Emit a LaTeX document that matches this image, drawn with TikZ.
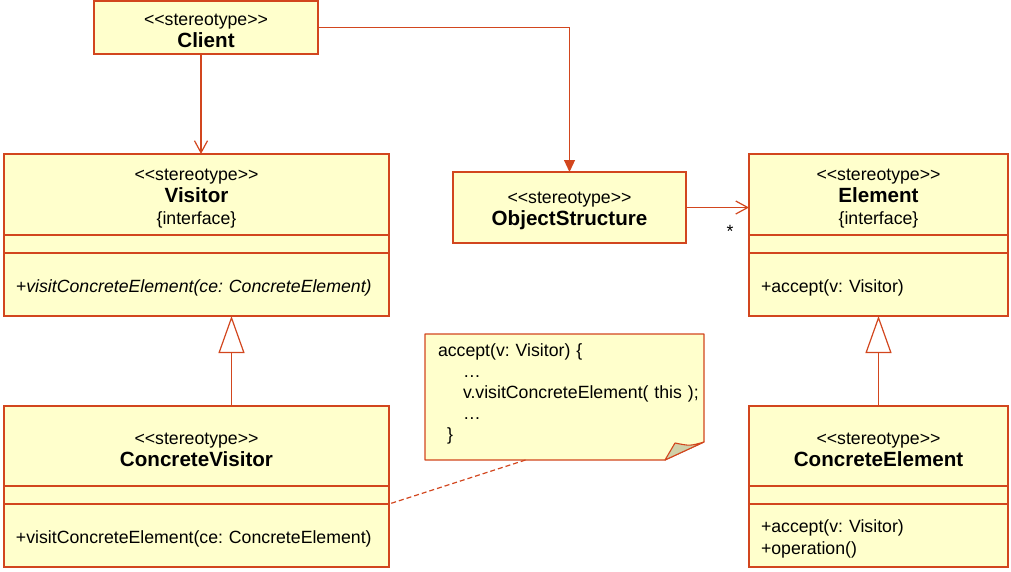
\documentclass[tikz,border=0pt]{standalone}
\usepackage{fontspec}
\setmainfont{Liberation Sans}
\usepackage{tikz}
\usetikzlibrary{arrows.meta,positioning,backgrounds}

\definecolor{umlline}{RGB}{210,70,30}
\definecolor{umlfill}{RGB}{255,255,204}
\definecolor{umlfold}{RGB}{208,208,168}
\newcommand{\topgap}{\rule{0pt}{19pt}}
\newcommand{\stereo}{\topgap<{}<stereotype>{}>}
\newcommand{\clsname}[1]{{\fontsize{20.6}{22}\selectfont\bfseries #1}}
\frenchspacing

\begin{document}
\begin{tikzpicture}[
  x=1pt, y=-1pt,
  font=\fontsize{17.7}{22}\selectfont,
  node distance=0pt,
  part/.style  ={rectangle, draw=umlline, fill=umlfill, line width=1.3pt,
                 outer sep=0pt, inner xsep=12pt, inner ysep=0pt},
  head/.style  ={part, align=center},
  attr/.style  ={part, minimum height=18pt},
  ops/.style   ={part, align=left, minimum height=63pt},
  notebox/.style={draw=umlline, fill=umlfill, line width=1.1pt, line join=round},
  assoc/.style ={draw=umlline, line width=1.2pt},
  arr/.style   ={assoc, -{Straight Barb[length=12pt, width=13pt]}},
  nav/.style   ={assoc, -{Triangle[length=12pt, width=11pt]}},
  gen/.style   ={assoc, -{Triangle[open, length=37pt, width=26pt]}},
  link/.style  ={assoc, dash pattern=on 5pt off 3pt}
]
\useasboundingbox (0,0) rectangle (1011,571);

\node[head, minimum width=224pt, minimum height=53pt, anchor=north west] (client) at (94,1) {\stereo\\\clsname{Client}};

\node[head, text width=361pt, minimum height=81pt, anchor=north west] (visitor) at (4,154) {\stereo\\\clsname{Visitor}\\\{interface\}};
\node[attr, text width=361pt, below=of visitor] (visitorAttr) {};
\node[ops, text width=361pt, below=of visitorAttr] (visitorOps) {\topgap\itshape +visitConcreteElement(ce: ConcreteElement)};

\node[head, text width=361pt, minimum height=80pt, below=90pt of visitorOps] (concVisitor) {\stereo\\\clsname{ConcreteVisitor}};
\node[attr, text width=361pt, below=of concVisitor] (concVisitorAttr) {};
\node[ops, text width=361pt, below=of concVisitorAttr] (concVisitorOps) {\topgap+visitConcreteElement(ce: ConcreteElement)};

\node[head, text width=235pt, minimum height=81pt, right=360pt of visitor] (element) {\stereo\\\clsname{Element}\\\{interface\}};
\node[attr, text width=235pt, below=of element] (elementAttr) {};
\node[ops, text width=235pt, below=of elementAttr] (elementOps) {\topgap+accept(v: Visitor)};

\node[head, text width=235pt, minimum height=80pt, below=90pt of elementOps] (concElement) {\stereo\\\clsname{ConcreteElement}};
\node[attr, text width=235pt, below=of concElement] (concElementAttr) {};
\node[ops, text width=235pt, below=of concElementAttr] (concElementOps) {\topgap+accept(v: Visitor)\\+operation()};

\node[head, minimum width=233pt, minimum height=71pt, anchor=north west] (objStruct) at (453,172) {\stereo\\\clsname{ObjectStructure}};

\node[align=left, text width=253pt, inner xsep=13pt, inner ysep=0pt, outer sep=0pt,
      font=\fontsize{17.7}{21}\selectfont, minimum height=126pt, anchor=north west] (note) at (425,334)
  {accept(v: Visitor) \{\\
   \hspace*{25pt}…\\
   \hspace*{25pt}\mbox{v.visitConcreteElement( this );}\\
   \hspace*{25pt}…\\
   \hspace*{9pt}\}\rule[-9pt]{0pt}{0pt}};

\begin{scope}[on background layer]
  \draw[notebox] (note.north west) -- (note.north east) -- ([yshift=18pt]note.south east)
    -- ([xshift=-39pt]note.south east) -- (note.south west) -- cycle;
  \draw[notebox, fill=umlfold] ([xshift=-39pt]note.south east)
    .. controls ([xshift=-34pt, yshift=9pt]note.south east) .. ([xshift=-29pt, yshift=17pt]note.south east)
    .. controls ([xshift=-14pt, yshift=14pt]note.south east) .. ([yshift=18pt]note.south east) -- cycle;
\end{scope}

\draw[arr] ([xshift=-5pt]client.south) -- ([xshift=-5pt]client.south |- visitor.north);
\draw[nav] (client.east) -| (objStruct.north);
\draw[arr] (objStruct.east) -- (objStruct.east -| element.west)
  node[pos=1, anchor=north east, inner sep=0pt, xshift=-15pt, yshift=-17pt] {*};
\draw[gen] ([xshift=35pt]concVisitor.north) -- ([xshift=35pt]visitorOps.south);
\draw[gen] (concElement.north) -- (elementOps.south);
\draw[link] ([xshift=-39pt]note.south) -- (concVisitorAttr.south east);
\end{tikzpicture}
\end{document}
